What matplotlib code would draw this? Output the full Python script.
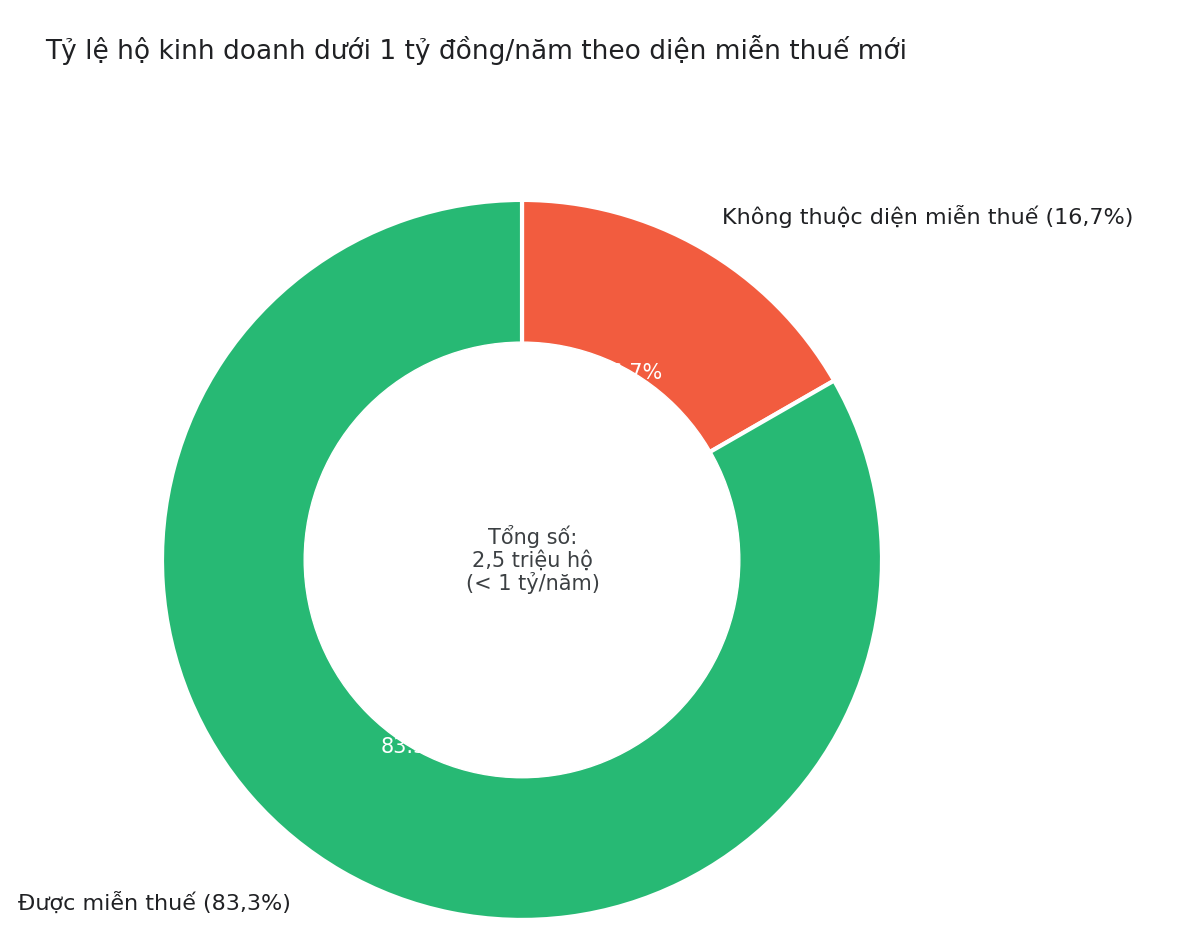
import matplotlib
matplotlib.use("Agg")
import matplotlib.pyplot as plt
from matplotlib.patches import Circle

labels = ["Không thuộc diện miễn thuế (16,7%)", "Được miễn thuế (83,3%)"]
values = [16.7, 83.3]
colors = ["#f25c3f", "#27b974"]
title = "Tỷ lệ hộ kinh doanh dưới 1 tỷ đồng/năm theo diện miễn thuế mới"
center_text = "Tổng số:\n2,5 triệu hộ\n(< 1 tỷ/năm)"

fig = plt.figure(figsize=(12, 9.5), dpi=100)
fig.patch.set_facecolor("white")
ax = fig.add_axes([0.135, 0.0316, 0.6, 0.758])
wedges, texts, autotexts = ax.pie(values, colors=colors, startangle=90, counterclock=False,
                                  autopct="%.1f%%", pctdistance=0.6,
                                  wedgeprops=dict(edgecolor="white", linewidth=3),
                                  textprops=dict(color="white", fontsize=15))
ax.add_patch(Circle((0, 0), 0.605, color="white", zorder=10))
ax.text(0.03, 0.0, center_text, ha="center", va="center", fontsize=15, color="#3c4043",
        linespacing=1.1, zorder=11)
ax.set_xlim(-1, 1); ax.set_ylim(-1, 1); ax.set_aspect("equal"); ax.axis("off")

fig.text(722/1200, 1-217/950, labels[0], ha="left", va="center", fontsize=16, color="#202124")
fig.text(18/1200, 1-903/950, labels[1], ha="left", va="center", fontsize=16, color="#202124")
fig.text(45/1200, 1-50/950, title, ha="left", va="center", fontsize=19, color="#202124")
fig.savefig("out.png", dpi=100)
